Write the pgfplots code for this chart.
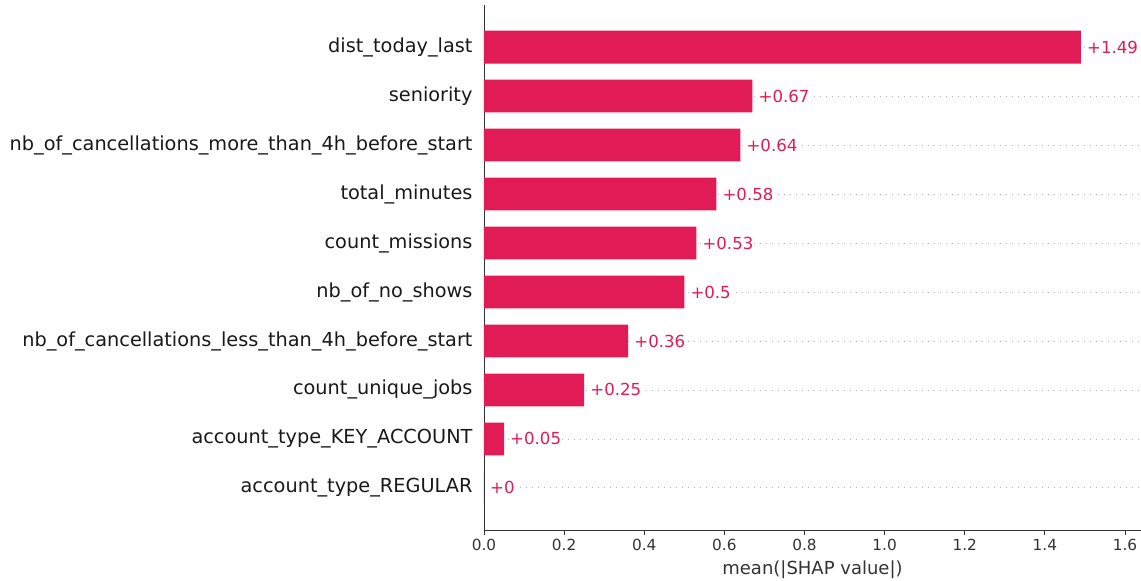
\documentclass[border=0pt]{standalone}
\usepackage{pgfplots}
\pgfplotsset{compat=1.18}
\usepackage{fontspec}
\setmainfont{DejaVu Sans}
\definecolor{shapred}{RGB}{225,27,85}
\definecolor{spine}{RGB}{51,51,51}
\begin{document}
\begin{tikzpicture}
\path[use as bounding box] (-484pt,-51pt) rectangle (657pt,530pt);
\begin{axis}[
  scale only axis, width=657pt, height=525pt,
  xmin=0, xmax=1.64, ymin=-0.86, ymax=9.86,
  axis x line*=bottom, axis y line*=left,
  axis line style={spine, line width=0.9pt},
  xtick={0,0.2,0.4,0.6,0.8,1.0,1.2,1.4,1.6},
  xticklabels={0.0,0.2,0.4,0.6,0.8,1.0,1.2,1.4,1.6},
  xticklabel style={font=\fontsize{15.3}{18}\selectfont, text=spine, yshift=-1pt},
  x tick style={spine, line width=0.9pt},
  tick align=outside, major tick length=5pt,
  ytick={0,...,9},
  yticklabels={account\_type\_REGULAR,account\_type\_KEY\_ACCOUNT,count\_unique\_jobs,nb\_of\_cancellations\_less\_than\_4h\_before\_start,nb\_of\_no\_shows,count\_missions,total\_minutes,nb\_of\_cancellations\_more\_than\_4h\_before\_start,seniority,dist\_today\_last},
  yticklabel style={font=\fontsize{19.3}{22}\selectfont, text=black!90, xshift=-3pt},
  y tick style={draw=none},
  ymajorgrids, grid style={dash pattern=on 1pt off 5pt, color=black!28, line width=0.8pt},
  xlabel={mean(|SHAP value|)},
  xlabel style={font=\fontsize{18}{21}\selectfont, text=spine, yshift=-3pt},
  clip=false,
]
\addplot[xbar, bar width=0.67, fill=shapred, draw=none,
  point meta=explicit symbolic,
  nodes near coords,
  every node near coord/.append style={anchor=west, xshift=5pt, font=\fontsize{16.6}{19}\selectfont, text=shapred, fill=white, inner xsep=1pt}]
coordinates {
(1.49,9) [+1.49]
(0.67,8) [+0.67]
(0.64,7) [+0.64]
(0.58,6) [+0.58]
(0.53,5) [+0.53]
(0.5,4) [+0.5]
(0.36,3) [+0.36]
(0.25,2) [+0.25]
(0.05,1) [+0.05]
(0,0) [+0]
};
\end{axis}
\end{tikzpicture}
\end{document}
